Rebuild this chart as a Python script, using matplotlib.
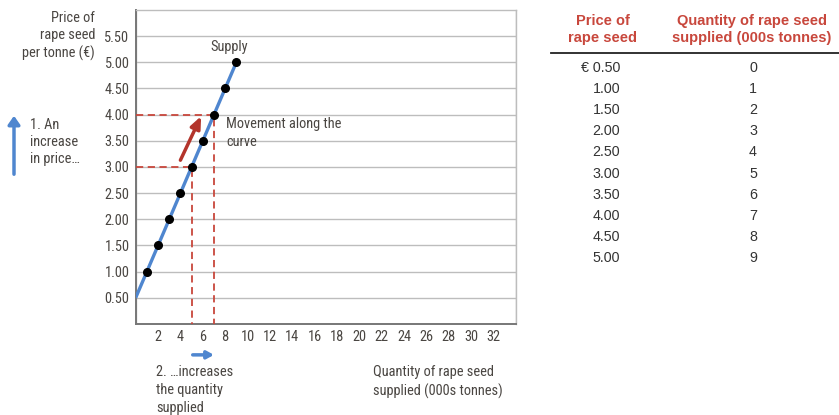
import matplotlib
matplotlib.use("Agg")
import matplotlib.pyplot as plt

# supply schedule
price = [0.50, 1.00, 1.50, 2.00, 2.50, 3.00, 3.50, 4.00, 4.50, 5.00]
quantity = [0, 1, 2, 3, 4, 5, 6, 7, 8, 9]
price_labels = ["€ 0.50", "1.00", "1.50", "2.00", "2.50", "3.00", "3.50", "4.00", "4.50", "5.00"]

x_ticks = list(range(2, 34, 2))
y_ticks = [0.5, 1.0, 1.5, 2.0, 2.5, 3.0, 3.5, 4.0, 4.5, 5.0, 5.5]

# the movement: price 3.00 -> 4.00
p_from, p_to = 3.00, 4.00
q_from, q_to = 5, 7

BLUE = "#4f86cf"
RED = "#c8473c"
DARKRED = "#b3342b"
TXT = "#4a4642"
NARROW = ["Roboto Condensed", "Liberation Sans Narrow", "Roboto", "DejaVu Sans"]
FS = 10.4

fig = plt.figure(figsize=(8.39, 4.15), dpi=100)
ax = fig.add_axes([0.1617, 0.2193, 0.4533, 0.7566])

ax.set_xlim(0, 34)
ax.set_ylim(0, 6)
ax.set_xticks(x_ticks)
ax.set_yticks(y_ticks)
ax.set_xticklabels([str(t) for t in x_ticks], family=NARROW, fontsize=FS, color=TXT)
ax.set_yticklabels([f"{t:.2f}" for t in y_ticks], family=NARROW, fontsize=FS, color=TXT)
ax.set_xticks(range(0, 35, 2), minor=True)
ax.tick_params(which="both", length=0, pad=4.5)
ax.grid(True, color="#bdbdbd", linewidth=1.0, which="minor", axis="x")
ax.grid(True, color="#bdbdbd", linewidth=1.0, which="major", axis="y")
for s in ["left", "bottom"]:
    ax.spines[s].set_color("#777777")
    ax.spines[s].set_linewidth(1.4)
for s in ["top", "right"]:
    ax.spines[s].set_color("#bdbdbd")
    ax.spines[s].set_linewidth(1.0)

# dashed guides
ax.plot([0, q_from, q_from], [p_from, p_from, 0], color=RED, ls=(0, (4, 2.5)), lw=1.3, zorder=3)
ax.plot([0, q_to, q_to], [p_to, p_to, 0], color=RED, ls=(0, (4, 2.5)), lw=1.3, zorder=3)

# supply curve
ax.plot(quantity, price, color=BLUE, lw=2.4, zorder=4, solid_capstyle="butt")
ax.plot(quantity[1:], price[1:], "o", color="black", ms=5.5, zorder=5)

ax.text(6.65, 5.29, "Supply", family=NARROW, fontsize=FS, color=TXT, va="center")
ax.text(8.1, 3.95, "Movement along the\ncurve", family=NARROW, fontsize=FS,
        color=TXT, va="top", linespacing=1.3)

# movement arrow
ax.annotate("", xy=(5.85, 3.97), xytext=(4.0, 3.13),
            arrowprops=dict(arrowstyle="-|>,head_length=0.7,head_width=0.3",
                            color=DARKRED, lw=2.5, shrinkA=0, shrinkB=0))
# quantity arrow under the axis
ax.annotate("", xy=(7.0, -0.59), xytext=(5.1, -0.59), annotation_clip=False,
            arrowprops=dict(arrowstyle="-|>,head_length=0.4,head_width=0.22",
                            color=BLUE, lw=2.5, shrinkA=0, shrinkB=0))

# price arrow on the left
fig.add_artist(matplotlib.patches.FancyArrowPatch(
    (14 / 839, 1 - 177 / 415), (14 / 839, 1 - 113 / 415), transform=fig.transFigure,
    arrowstyle="-|>,head_length=5,head_width=3.5", color=BLUE, lw=2.5))

fig.text(95 / 839, 1 - 11 / 415, "Price of\nrape seed\nper tonne (€)", family=NARROW,
         fontsize=FS, color=TXT, ha="right", va="top", linespacing=1.28)
fig.text(30 / 839, 1 - 118 / 415, "1. An\nincrease\nin price…", family=NARROW,
         fontsize=FS, color=TXT, ha="left", va="top", linespacing=1.28)
fig.text(156 / 839, 1 - 365 / 415, "2. …increases\nthe quantity\nsupplied", family=NARROW,
         fontsize=FS, color=TXT, ha="left", va="top", linespacing=1.38)
fig.text(373 / 839, 1 - 365 / 415, "Quantity of rape seed\nsupplied (000s tonnes)", family=NARROW,
         fontsize=FS, color=TXT, ha="left", va="top", linespacing=1.38)

# table on the right
TAB = ["Liberation Sans", "DejaVu Sans"]
fig.text(603 / 839, 1 - 14 / 415, "Price of\nrape seed", family=TAB, fontsize=10.5,
         fontweight="bold", color=RED, ha="center", va="top", linespacing=1.3)
fig.text(752 / 839, 1 - 14 / 415, "Quantity of rape seed\nsupplied (000s tonnes)", family=TAB,
         fontsize=10.5, fontweight="bold", color=RED, ha="center", va="top", linespacing=1.3)
fig.add_artist(plt.Line2D([551 / 839, 1.0], [1 - 53 / 415, 1 - 53 / 415],
                          transform=fig.transFigure, color="#222222", lw=1.3))
for i, (pl, q) in enumerate(zip(price_labels, quantity)):
    y = 1 - (68 + i * 21.1) / 415
    fig.text(620 / 839, y, pl, family=TAB, fontsize=10.3, color="#333333", ha="right", va="center")
    fig.text(753 / 839, y, str(q), family=TAB, fontsize=10.3, color="#333333", ha="center", va="center")

fig.savefig("out.png", dpi=100)
